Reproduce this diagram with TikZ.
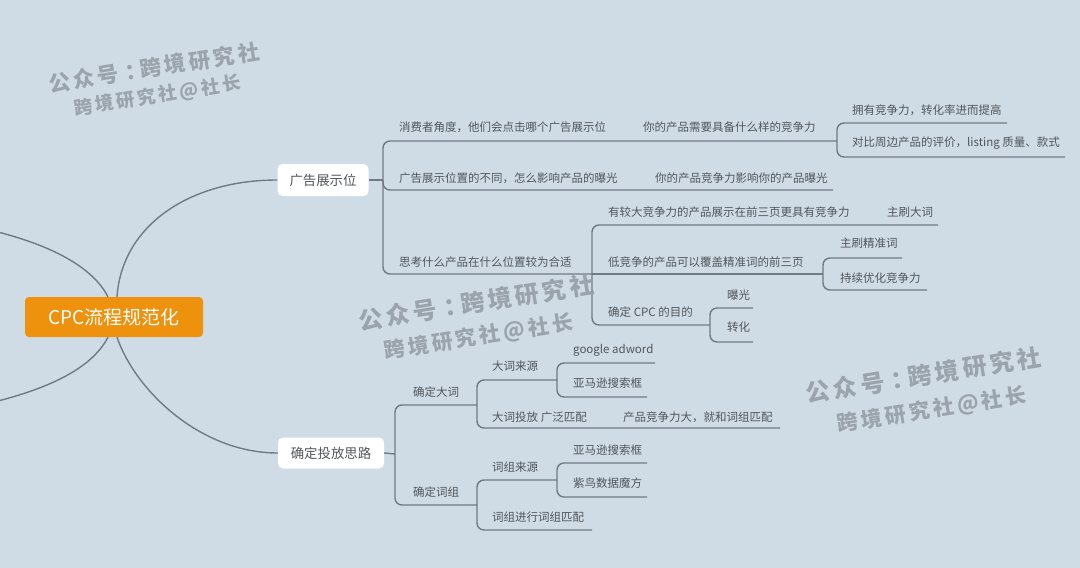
\documentclass[tikz,border=0pt]{standalone}
\usepackage{fontspec}
\setmainfont{Noto Sans CJK SC}
\newfontfamily\wmfont[LetterSpace=15]{Noto Sans CJK SC}
\definecolor{bg}{RGB}{207,220,230}
\definecolor{lnc}{RGB}{112,122,132}
\definecolor{tx}{RGB}{82,86,90}
\definecolor{org}{RGB}{238,145,12}
\definecolor{wmc}{RGB}{150,158,166}
\newcommand{\wmtop}{公众号\kern0.3em：\kern-0.3em 跨境研究社}
\newcommand{\wmbot}{跨境研究社@社长}
\tikzset{
 lnk/.style={draw=lnc, line width=1.4pt, rounded corners=7pt},
 curve/.style={draw=lnc, line width=1.4pt},
 lbl/.style={anchor=west, inner sep=0pt, text=tx, font=\fontsize{11.5}{13}\selectfont},
 topic/.style={fill=white, rounded corners=5pt, text=tx, font=\fontsize{13.4}{15}\selectfont, inner sep=0pt, minimum height=32pt},
 wm/.style={text=wmc, rotate=9, opacity=0.9, inner sep=0pt},
}
\begin{document}
\begin{tikzpicture}[x=1pt,y=-1pt]
\fill[bg] (0,0) rectangle (1080,568);
\useasboundingbox (0,0) rectangle (1080,568);

% root and topics
\node[fill=org, rounded corners=4pt, minimum width=178pt, minimum height=40pt, inner sep=0pt, text=white, font=\fontsize{19}{22}\selectfont] (root) at (114,317) {CPC流程规范化};
\node[topic, minimum width=91pt] (g1) at (323,180) {广告展示位};
\node[topic, minimum width=106pt, minimum height=31pt] (g2) at (331,453) {确定投放思路};

% curves
\coordinate (lu) at (-2,232);
\coordinate (ld) at (-2,401);
\draw[curve] ([xshift=-6pt]root.north) .. controls (90,262) and (40,243) .. (lu);
\draw[curve] ([xshift=-6pt]root.south) .. controls (90,372) and (40,390) .. (ld);
\draw[curve] ([xshift=3pt]root.north) .. controls (122,225) and (190,180) .. (g1.west);
\draw[curve] ([xshift=3pt]root.south) .. controls (135,390) and (200,453) .. (g2.west);

% upper branch connectors
\coordinate (j1) at (383,180);
\coordinate (j11) at (837,141);
\coordinate (a2e) at (833,190);
\coordinate (j13) at (592,274);
\coordinate (c11e) at (1007,123);
\coordinate (c12e) at (1065,157);
\coordinate (b1e) at (938,225);
\coordinate (j132) at (823,274);
\coordinate (j133) at (710,325);
\coordinate (c1e) at (902,258);
\coordinate (c2e) at (927,290);
\coordinate (d1e) at (753,308);
\coordinate (d2e) at (753,342);
\draw[lnk] (g1.east) -- (j1);
\draw[lnk] (j1) |- (j11);
\draw[lnk] (j1) |- (a2e);
\draw[lnk] (j1) |- (j13);
\draw[lnk] (j11) |- (c11e);
\draw[lnk] (j11) |- (c12e);
\draw[lnk] (j13) |- (b1e);
\draw[lnk] (j13) -- (j132);
\draw[lnk] (j13) |- (j133);
\draw[lnk] (j132) |- (c1e);
\draw[lnk] (j132) |- (c2e);
\draw[lnk] (j133) |- (d1e);
\draw[lnk] (j133) |- (d2e);

% lower branch connectors
\coordinate (j2) at (395,454);
\coordinate (j21) at (477,405);
\coordinate (j22) at (477,505);
\coordinate (j211) at (557,380);
\coordinate (f2e) at (780,428);
\coordinate (g1e) at (655,363);
\coordinate (g2e) at (647,397);
\coordinate (j221) at (557,480);
\coordinate (h2e) at (592,530);
\coordinate (i1e) at (647,463);
\coordinate (i2e) at (647,497);
\draw[lnk] (g2.east) -- (j2);
\draw[lnk] (j2) |- (j21);
\draw[lnk] (j2) |- (j22);
\draw[lnk] (j21) |- (j211);
\draw[lnk] (j21) |- (f2e);
\draw[lnk] (j211) |- (g1e);
\draw[lnk] (j211) |- (g2e);
\draw[lnk] (j22) |- (j221);
\draw[lnk] (j22) |- (h2e);
\draw[lnk] (j221) |- (i1e);
\draw[lnk] (j221) |- (i2e);

% upper labels
\node[lbl] (a1) at (399,127) {消费者角度，他们会点击哪个广告展示位};
\node[lbl] (a1b) at (643,127) {你的产品需要具备什么样的竞争力};
\node[lbl] (a11) at (852,110) {拥有竞争力，转化率进而提高};
\node[lbl] (a12) at (852,143) {对比周边产品的评价，listing 质量、款式};
\node[lbl] (a2) at (399,178) {广告展示位置的不同，怎么影响产品的曝光};
\node[lbl] (a2b) at (655,178) {你的产品竞争力影响你的产品曝光};
\node[lbl] (a3) at (399,262) {思考什么产品在什么位置较为合适};
\node[lbl] (b1) at (608,212) {有较大竞争力的产品展示在前三页更具有竞争力};
\node[lbl] (b1b) at (887,212) {主刷大词};
\node[lbl] (b2) at (608,262) {低竞争的产品可以覆盖精准词的前三页};
\node[lbl] (c1) at (840,243) {主刷精准词};
\node[lbl] (c2) at (840,278) {持续优化竞争力};
\node[lbl] (b3) at (608,312) {确定 CPC 的目的};
\node[lbl] (d1) at (727,295) {曝光};
\node[lbl] (d2) at (727,327) {转化};

% lower labels
\node[lbl] (e1) at (413,392) {确定大词};
\node[lbl] (f1) at (492,366) {大词来源};
\node[lbl] (gg1) at (573,350) {google adword};
\node[lbl] (gg2) at (573,383) {亚马逊搜索框};
\node[lbl] (f2) at (492,417) {大词投放 广泛匹配};
\node[lbl] (f2b) at (623,417) {产品竞争力大，就和词组匹配};
\node[lbl] (e2) at (413,492) {确定词组};
\node[lbl] (h1) at (492,467) {词组来源};
\node[lbl] (i1) at (573,450) {亚马逊搜索框};
\node[lbl] (i2) at (573,483) {紫鸟数据魔方};
\node[lbl] (h2) at (492,517) {词组进行词组匹配};

% watermarks
\node[wm, font=\wmfont\bfseries\fontsize{21.5}{24}\selectfont] (w1a) at (154,67.5) {\wmtop};
\node[wm, font=\wmfont\bfseries\fontsize{18.5}{21}\selectfont] (w1b) at (157.5,96) {\wmbot};
\node[wm, font=\wmfont\bfseries\fontsize{24}{27}\selectfont] (w2a) at (476,302.5) {\wmtop};
\node[wm, font=\wmfont\bfseries\fontsize{21}{24}\selectfont] (w2b) at (478.5,337) {\wmbot};
\node[wm, font=\wmfont\bfseries\fontsize{24}{27}\selectfont] (w3a) at (923.5,375) {\wmtop};
\node[wm, font=\wmfont\bfseries\fontsize{21}{24}\selectfont] (w3b) at (932,410) {\wmbot};
\end{tikzpicture}
\end{document}
